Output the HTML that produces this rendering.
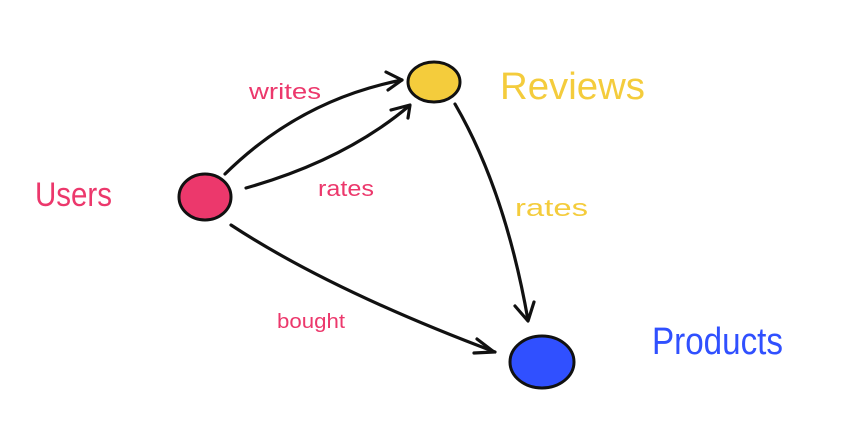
<!DOCTYPE html>
<html><head><meta charset="utf-8"><style>
html,body{margin:0;padding:0;background:#fff;width:843px;height:443px;overflow:hidden}
text{font-family:"Liberation Sans",sans-serif;font-weight:300}
</style></head><body>
<svg width="843" height="443" viewBox="0 0 843 443" xmlns="http://www.w3.org/2000/svg">
<g fill="none" stroke="#111" stroke-width="3.2" stroke-linecap="round" stroke-linejoin="round">
<path d="M225 174 Q300 100 402 80"/>
<path d="M386 72 L402 80 L388 90"/>
<path d="M246 188 Q345 160 409 106"/>
<path d="M391 110 L410 105 L408 118"/>
<path d="M455 104 Q505 190 528 320"/>
<path d="M515 306 L528 321 L534 302"/>
<path d="M231 225 Q330 290 495 352"/>
<path d="M477 339 L494 352 L474 353"/>
</g>
<ellipse cx="205" cy="197" rx="26" ry="23" fill="#ec386c" stroke="#111" stroke-width="3"/>
<ellipse cx="434" cy="82" rx="26" ry="20" fill="#f4cc3c" stroke="#111" stroke-width="3"/>
<ellipse cx="542" cy="362" rx="32" ry="26" fill="#3050ff" stroke="#111" stroke-width="3"/>
<text x="35" y="206" font-size="34" fill="#ec386c" textLength="77" lengthAdjust="spacingAndGlyphs">Users</text>
<text x="500" y="99" font-size="38" fill="#f4cc3c" textLength="145" lengthAdjust="spacingAndGlyphs">Reviews</text>
<text x="652" y="354" font-size="38" fill="#3050ff" textLength="131" lengthAdjust="spacingAndGlyphs">Products</text>
<text x="249" y="99" font-size="22" fill="#ec386c" textLength="72" lengthAdjust="spacingAndGlyphs">writes</text>
<text x="318" y="196" font-size="22" fill="#ec386c" textLength="56" lengthAdjust="spacingAndGlyphs">rates</text>
<text x="515" y="216" font-size="24" fill="#f4cc3c" textLength="73" lengthAdjust="spacingAndGlyphs">rates</text>
<text x="277" y="328" font-size="20" fill="#ec386c" textLength="68" lengthAdjust="spacingAndGlyphs">bought</text>
</svg>
</body></html>
